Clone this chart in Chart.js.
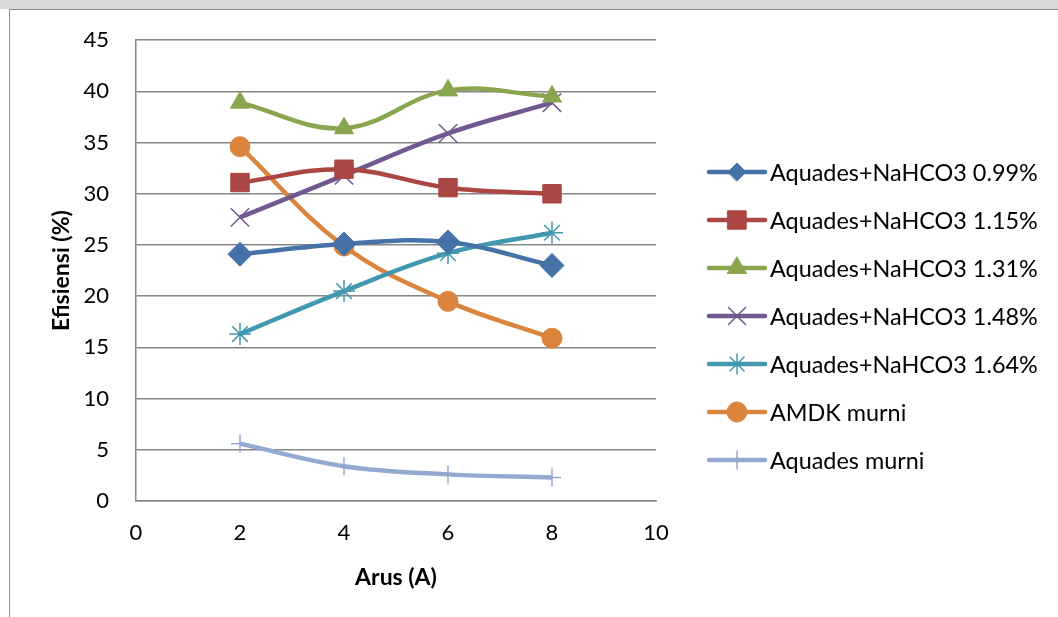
<!DOCTYPE html>
<html>
<head>
<meta charset="utf-8">
<script src="https://cdn.jsdelivr.net/npm/chart.js@4/dist/chart.umd.min.js"></script>
<style>
  html,body{margin:0;padding:0;background:#fff;}
  #wrap{position:relative;width:1058px;height:617px;overflow:hidden;background:#fff;}
  #band{position:absolute;left:0;top:0;width:1058px;height:9px;background:#d9d9d9;}
  #frame{position:absolute;left:9px;top:9px;width:1060px;height:620px;border-left:1px solid #8c8c8c;border-top:1px solid #8c8c8c;box-sizing:border-box;}
  canvas{position:absolute;left:0;top:0;}
</style>
</head>
<body>
<div id="wrap">
  <div id="band"></div>
  <div id="frame"></div>
  <canvas id="c" width="1058" height="617"></canvas>
</div>
<script>
// ---- data ----
const currents = [2, 4, 6, 8];
const seriesNames = [
  'Aquades+NaHCO3 0.99%',
  'Aquades+NaHCO3 1.15%',
  'Aquades+NaHCO3 1.31%',
  'Aquades+NaHCO3 1.48%',
  'Aquades+NaHCO3 1.64%',
  'AMDK murni',
  'Aquades murni'
];
const naHCO3_099 = [24.1, 25.1, 25.3, 23.0];
const naHCO3_115 = [31.1, 32.4, 30.6, 30.0];
const naHCO3_131 = [38.9, 36.4, 40.1, 39.5];
const naHCO3_148 = [27.7, 31.8, 35.9, 38.9];
const naHCO3_164 = [16.3, 20.5, 24.2, 26.2];
const amdkMurni = [34.6, 24.9, 19.5, 15.9];
const aquadesMurni = [5.6, 3.4, 2.6, 2.3];
const xTicks = [0, 2, 4, 6, 8, 10];
const yTicks = [0, 5, 10, 15, 20, 25, 30, 35, 40, 45];

const seriesValues = [naHCO3_099, naHCO3_115, naHCO3_131, naHCO3_148, naHCO3_164, amdkMurni, aquadesMurni];
const colors = ['#4572A7', '#AA4643', '#89A54E', '#71588F', '#4198AF', '#DB843D', '#93A9CF'];
const styles = ['rectRot', 'rect', 'triangle', 'crossRot', 'star', 'circle', 'cross'];
const radii = [12, 13, 11, 13, 11, 10, 9];
const legendRadii = [9, 13, 11, 12, 10, 10, 9];
const markerBorder = [1, 1, 1, 1.5, 1.5, 1, 1.5];

const FONT = "Lato, 'Open Sans', 'Liberation Sans', sans-serif";

const datasets = seriesValues.map((vals, i) => ({
  label: seriesNames[i],
  data: vals.map((v, j) => ({x: currents[j], y: v})),
  borderColor: colors[i],
  backgroundColor: colors[i],
  pointBackgroundColor: colors[i],
  pointBorderColor: colors[i],
  pointStyle: styles[i],
  pointRadius: radii[i],
  pointBorderWidth: markerBorder[i],
  borderWidth: 4.5,
  tension: 0.38,
  fill: false,
  order: i
}));

const legendPlugin = {
  id: 'excelLegend',
  afterDraw(chart) {
    const ctx = chart.ctx;
    const ds = chart.data.datasets;
    const x0 = 709, x1 = 765, mx = 737, tx = 770;
    const y0 = 172, dy = 48;
    ctx.save();
    ctx.font = "23px " + FONT;
    const w = ctx.measureText(ds[0].label).width;
    const fs = Math.max(16, Math.min(28, 23 * 268 / w));
    ds.forEach((d, i) => {
      const y = y0 + i * dy;
      ctx.strokeStyle = d.borderColor;
      ctx.lineWidth = 4.5;
      ctx.lineCap = 'round';
      ctx.beginPath(); ctx.moveTo(x0, y); ctx.lineTo(x1, y); ctx.stroke();
      ctx.fillStyle = d.pointBackgroundColor;
      ctx.strokeStyle = d.pointBorderColor;
      ctx.lineWidth = d.pointBorderWidth;
      Chart.helpers.drawPoint(ctx, {pointStyle: d.pointStyle, radius: legendRadii[i], rotation: 0, borderWidth: d.pointBorderWidth}, mx, y);
      ctx.fillStyle = '#000';
      ctx.font = fs.toFixed(1) + "px " + FONT;
      ctx.textBaseline = 'middle';
      ctx.textAlign = 'left';
      ctx.fillText(d.label, tx, y + 1);
    });
    ctx.restore();
  }
};

new Chart(document.getElementById('c'), {
  type: 'line',
  data: {datasets},
  options: {
    responsive: false,
    animation: false,
    events: [],
    layout: {padding: {left: 0, top: 38, right: 402, bottom: 0}},
    plugins: {legend: {display: false}, tooltip: {enabled: false}},
    scales: {
      x: {
        type: 'linear',
        min: 0, max: 10,
        afterBuildTicks: s => { s.ticks = xTicks.map(v => ({value: v})); },
        afterFit: s => { s.height = 116; },
        grid: {display: false, drawTicks: false},
        border: {display: true, color: '#868686', width: 1.5},
        ticks: {color: '#000', padding: 19, font: {family: FONT, size: 22}, maxRotation: 0},
        title: {display: true, text: 'Arus (A)', color: '#000', font: {family: FONT, size: 23, weight: 'bold'}, padding: {top: 0, bottom: 26}}
      },
      y: {
        type: 'linear',
        min: 0, max: 45,
        afterBuildTicks: s => { s.ticks = yTicks.map(v => ({value: v})); },
        afterFit: s => { s.width = 136; },
        grid: {color: '#868686', lineWidth: 1.5, drawTicks: false},
        border: {display: true, color: '#868686', width: 1.5},
        ticks: {color: '#000', padding: 27, font: {family: FONT, size: 22}},
        title: {display: true, text: 'Efisiensi (%)', color: '#000', font: {family: FONT, size: 23, weight: 'bold'}, padding: {top: 48, bottom: 0}}
      }
    }
  },
  plugins: [legendPlugin]
});
</script>
</body>
</html>
